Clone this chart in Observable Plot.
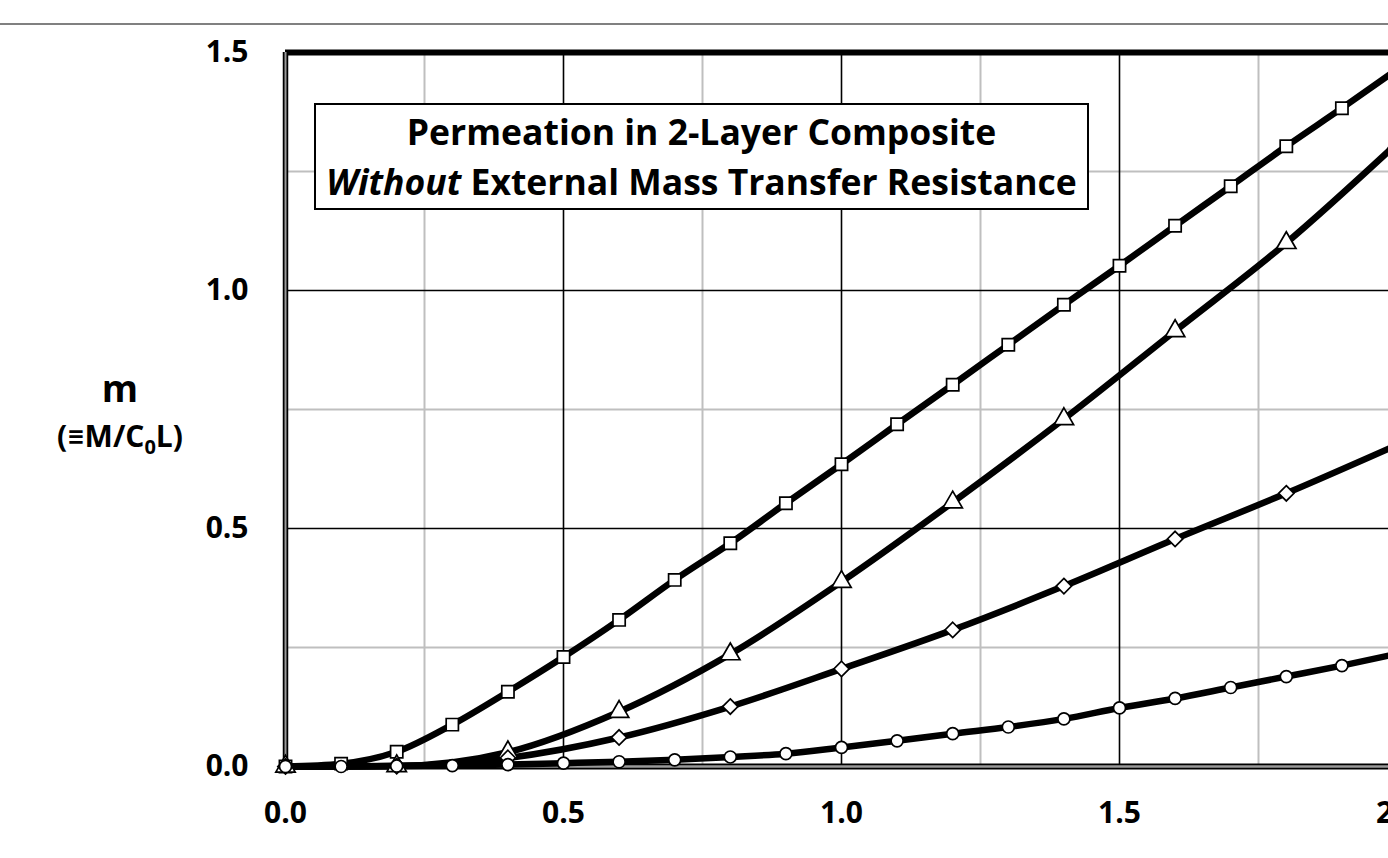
<!DOCTYPE html>
<html>
<head>
<meta charset="utf-8">
<script src="https://cdn.jsdelivr.net/npm/d3@7"></script>
<script src="https://cdn.jsdelivr.net/npm/@observablehq/plot@0.6"></script>
<style>
html, body { margin: 0; padding: 0; background: #fff; overflow: hidden; width: 1388px; height: 858px; }
#wrap { position: relative; width: 1388px; height: 858px; overflow: hidden; font-family: "Open Sans", Lato, sans-serif; font-weight: bold; color: #000; }
#topline { position: absolute; left: 0; top: 23px; width: 1388px; height: 2px; background: #808080; }
#chart { position: absolute; left: 0; top: 0; width: 1420px; height: 858px; }
#chart svg { max-width: none !important; }
#title { position: absolute; left: 314px; top: 103px; width: 771px; height: 103px; border: 2px solid #000; background: #fff; text-align: center; font-size: 35.5px; line-height: 50px; box-sizing: content-box; white-space: nowrap; }
#title .l1 { padding-top: 1px; }
#ylab1 { position: absolute; left: 20px; width: 200px; top: 366px; text-align: center; font-size: 37px; line-height: 1.2; }
#ylab2 { position: absolute; left: 20px; width: 200px; top: 418px; text-align: center; font-size: 30px; line-height: 36px; }
#ylab2 .sub { font-size: 20px; position: relative; top: 7px; }
</style>
</head>
<body>
<div id="wrap">
  <div id="topline"></div>
  <div id="chart"></div>
  <div id="title"><div class="l1">Permeation in 2-Layer Composite</div><div class="l2"><i>Without</i> External Mass Transfer Resistance</div></div>
  <div id="ylab1">m</div>
  <div id="ylab2">(≡M/C<span class="sub">0</span>L)</div>
</div>
<script>
// ---- data ----
const squareX = [0, 0.1, 0.2, 0.3, 0.4, 0.5, 0.6, 0.7, 0.8, 0.9, 1.0, 1.1, 1.2, 1.3, 1.4, 1.5, 1.6, 1.7, 1.8, 1.9, 2.0];
const squareY = [0, 0.006, 0.031, 0.088, 0.157, 0.230, 0.308, 0.392, 0.469, 0.553, 0.635, 0.719, 0.802, 0.886, 0.970, 1.052, 1.136, 1.219, 1.303, 1.383, 1.465];

const triangleX = [0, 0.2, 0.4, 0.6, 0.8, 1.0, 1.2, 1.4, 1.6, 1.8, 2.0];
const triangleY = [0, 0.001, 0.030, 0.115, 0.236, 0.388, 0.555, 0.730, 0.915, 1.100, 1.310];

const diamondX = [0, 0.2, 0.4, 0.6, 0.8, 1.0, 1.2, 1.4, 1.6, 1.8, 2.0];
const diamondY = [0, 0.001, 0.018, 0.061, 0.126, 0.205, 0.287, 0.379, 0.478, 0.574, 0.676];

const circleX = [0, 0.1, 0.2, 0.3, 0.4, 0.5, 0.6, 0.7, 0.8, 0.9, 1.0, 1.1, 1.2, 1.3, 1.4, 1.5, 1.6, 1.7, 1.8, 1.9, 2.0];
const circleY = [0, 0.000, 0.001, 0.002, 0.004, 0.007, 0.010, 0.014, 0.020, 0.027, 0.040, 0.054, 0.069, 0.083, 0.100, 0.123, 0.143, 0.166, 0.189, 0.212, 0.237];

const xTicks = [0, 0.5, 1.0, 1.5, 2.0];
const yTicks = [0, 0.5, 1.0, 1.5];
const xMajorGrid = [0.5, 1.0, 1.5, 2.0];
const yMajorGrid = [0.5, 1.0];
const xMinorGrid = [0.25, 0.75, 1.25, 1.75];
const yMinorGrid = [0.25, 0.75, 1.25];

// ---- build table ----
const seriesDefs = [
  {name: "square",   symbol: "square",   r: 6.9, xs: squareX,   ys: squareY},
  {name: "triangle", symbol: "triangle", r: 7.2, xs: triangleX, ys: triangleY},
  {name: "diamond",  symbol: "diamond2", r: 6.9, xs: diamondX,  ys: diamondY},
  {name: "circle",   symbol: "circle",   r: 6.0, xs: circleX,   ys: circleY}
];
const rows = seriesDefs.flatMap(s => s.xs.map((x, i) => ({series: s.name, x, y: s.ys[i]})));

const fmt = d3.format(".1f");

const chart = Plot.plot({
  width: 1420,
  height: 858,
  marginLeft: 285,
  marginRight: 23,
  marginTop: 52,
  marginBottom: 92,
  style: {fontFamily: "'Open Sans', Lato, sans-serif", fontWeight: "bold", background: "transparent", overflow: "visible", maxWidth: "none"},
  x: {domain: [0, 2], axis: null},
  y: {domain: [0, 1.5], axis: null},
  marks: [
    Plot.ruleX(xMinorGrid, {stroke: "#bfbfbf", strokeWidth: 2}),
    Plot.ruleY(yMinorGrid, {stroke: "#bfbfbf", strokeWidth: 2}),
    Plot.ruleX(xMajorGrid, {stroke: "#000", strokeWidth: 1.6}),
    Plot.ruleY(yMajorGrid, {stroke: "#000", strokeWidth: 1.6}),
    Plot.ruleY([1.5], {stroke: "#000", strokeWidth: 6}),
    Plot.ruleX([0], {stroke: "#000", strokeWidth: 5.5}),
    Plot.ruleX([0], {stroke: "#9a9a9a", strokeWidth: 2}),
    Plot.ruleY([0], {stroke: "#000", strokeWidth: 6}),
    Plot.ruleY([0], {stroke: "#9a9a9a", strokeWidth: 2.5}),
    Plot.line(rows, {x: "x", y: "y", z: "series", stroke: "#000", strokeWidth: 6.5, curve: "monotone-x"}),
    ...seriesDefs.map(s => Plot.dot(rows.filter(d => d.series === s.name), {
      x: "x", y: "y", symbol: s.symbol, r: s.r, fill: "#fff", stroke: "#000", strokeWidth: 1.7
    })),
    Plot.text(yTicks, {y: d => d, frameAnchor: "left", dx: -37, textAnchor: "end", lineAnchor: "middle", text: d => fmt(d), fontSize: 30, fontWeight: "bold", fill: "#000"}),
    Plot.text(xTicks, {x: d => d, frameAnchor: "bottom", dy: 47, textAnchor: "middle", lineAnchor: "middle", text: d => fmt(d), fontSize: 30, fontWeight: "bold", fill: "#000"})
  ]
});
document.getElementById("chart").appendChild(chart);
</script>
</body>
</html>
